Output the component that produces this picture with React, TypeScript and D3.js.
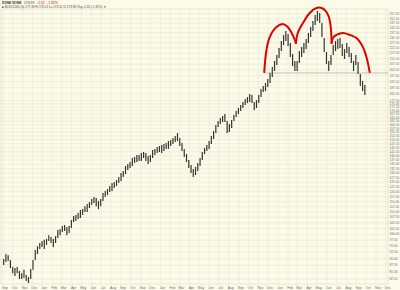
import React from 'react';
import * as d3 from 'd3';

const W = 400;
const H = 290;

const firstWeek = '2003-09-03';
const axisStart = '2003-09-01';
const axisEnd = '2007-01-01';

const weekHigh = [
  89.9, 91.8, 91.4, 89.5, 86.9, 86.5, 86.9, 85.4, 84.6, 85.8,
  83.9, 83.2, 86.1, 89.5, 93.4, 95.0, 96.3, 97.1, 97.6, 98.0,
  99.6, 98.8, 98.0, 99.2, 101.8, 102.3, 103.6, 104.0, 103.1, 103.6,
  106.3, 108.1, 108.6, 109.5, 110.9, 111.4, 112.8, 113.8, 114.8, 116.3,
  117.3, 116.8, 115.3, 116.3, 119.3, 120.4, 121.4, 123.0, 124.6, 125.1,
  126.2, 127.8, 130.1, 131.2, 134.0, 135.2, 136.4, 138.7, 139.3, 140.5,
  140.5, 141.7, 142.3, 141.7, 139.9, 140.5, 143.5, 144.2, 145.4, 146.0,
  146.6, 147.3, 147.9, 149.2, 149.8, 151.1, 152.4, 154.4, 151.1, 147.9,
  144.2, 141.1, 137.5, 134.6, 132.3, 133.5, 135.8, 138.7, 142.3, 144.8,
  146.6, 149.2, 152.4, 155.7, 159.8, 162.6, 164.7, 166.1, 167.5, 162.6,
  160.5, 163.3, 166.8, 169.7, 171.9, 174.1, 176.4, 178.7, 180.2, 182.5,
  181.8, 176.4, 177.9, 181.8, 186.5, 188.9, 191.4, 194.7, 199.8, 205.0,
  210.4, 215.8, 222.4, 229.2, 235.2, 239.2, 236.2, 227.2, 216.7, 210.4,
  210.4, 219.5, 223.3, 227.2, 231.1, 237.2, 243.4, 249.8, 256.3, 260.7,
  258.5, 247.6, 232.1, 218.6, 210.4, 215.8, 225.3, 229.2, 231.1, 232.1,
  226.2, 221.4, 227.2, 223.3, 217.7, 210.4, 215.8, 209.5, 198.9, 193.0,
  189.7,
];

const weekLow = [
  87.6, 88.7, 89.1, 86.5, 84.6, 83.6, 84.6, 82.5, 82.5, 82.9,
  81.8, 81.1, 82.5, 85.8, 89.5, 91.8, 93.8, 94.6, 93.8, 95.5,
  97.1, 96.3, 94.6, 96.3, 98.4, 99.6, 100.9, 101.4, 99.6, 100.5,
  102.7, 105.4, 105.8, 106.7, 107.2, 108.6, 110.0, 110.0, 111.9, 113.3,
  114.3, 112.8, 111.4, 112.8, 115.3, 117.3, 118.3, 119.8, 120.4, 121.9,
  123.0, 124.6, 125.7, 127.8, 129.5, 131.7, 132.9, 134.0, 135.8, 136.4,
  136.9, 136.9, 138.7, 136.9, 135.2, 136.4, 138.7, 140.5, 141.7, 142.3,
  141.7, 142.9, 144.2, 144.2, 146.0, 147.3, 148.5, 149.2, 146.0, 142.9,
  139.3, 136.4, 132.9, 130.1, 127.8, 128.9, 131.2, 134.0, 137.5, 141.1,
  142.9, 144.2, 147.3, 150.5, 154.4, 158.4, 160.5, 161.9, 161.9, 154.4,
  155.0, 157.7, 162.6, 165.4, 167.5, 169.7, 171.9, 174.1, 175.6, 176.4,
  175.6, 170.4, 171.9, 175.6, 180.2, 184.1, 184.9, 188.1, 191.4, 196.4,
  201.5, 206.8, 213.1, 219.5, 225.3, 229.2, 224.3, 214.0, 205.9, 201.5,
  201.5, 208.6, 214.0, 217.7, 221.4, 227.2, 233.1, 239.2, 245.5, 249.8,
  247.6, 233.1, 218.6, 207.7, 201.5, 206.8, 215.8, 219.5, 221.4, 222.4,
  214.9, 212.2, 217.7, 214.0, 208.6, 201.5, 206.8, 198.9, 188.9, 184.9,
  181.8,
];

const priceTicks = [
  82.5, 85, 87.5, 90, 92.5, 95, 97.5, 100, 102.5, 105, 107.5, 110, 112.5,
  115, 117.5, 120, 122.5, 125, 127.5, 130, 132.5, 135, 137.5, 140, 142.5,
  145, 147.5, 150, 152.5, 155, 157.5, 160, 162.5, 165, 167.5, 170, 172.5,
  175, 177.5, 182.5, 187.5, 192.5, 197.5, 202.5, 207.5, 212.5, 217.5,
  222.5, 227.5, 232.5, 237.5, 242.5, 247.5, 252.5, 257.5,
];

const leftShoulder: [string, number][] = [
  ['2005-11-19', 200.6], ['2005-11-26', 220.5], ['2005-12-06', 233.1],
  ['2005-12-27', 243.4], ['2006-01-16', 246.6], ['2006-01-31', 243.4],
  ['2006-02-12', 237.2], ['2006-02-22', 230.2], ['2006-02-25', 227.2],
];
const headArc: [string, number][] = [
  ['2006-02-25', 227.2], ['2006-03-03', 237.2], ['2006-03-19', 247.6],
  ['2006-04-09', 258.5], ['2006-04-30', 264.1], ['2006-05-16', 264.1],
  ['2006-05-31', 259.6], ['2006-06-10', 250.8], ['2006-06-14', 240.3],
  ['2006-06-16', 227.2],
];
const rightShoulder: [string, number][] = [
  ['2006-06-16', 227.2], ['2006-06-20', 232.1], ['2006-07-01', 235.2],
  ['2006-07-21', 237.2], ['2006-08-12', 235.2], ['2006-09-01', 232.1],
  ['2006-09-21', 223.3], ['2006-10-02', 214.0], ['2006-10-12', 200.6],
];
const necklinePrice = 199.8;
const necklineStart = '2005-11-21';
const necklineEnd = '2006-12-07';

const titleSymbol = '$ONE $ONE';
const titleLast = '173.99';
const titleChg = '-2.32';
const titlePct = '-1.32%';
const infoLine = '\u25A0 $1/31/2005  Op 177.39  Hi 178.25  Lo 173.52  Cl 173.99  Chg -2.32 (-1.32%) \u25BC';

const BG = '#fcfbea';
const GRID = '#e5e3cb';
const FONT = 'Liberation Sans, Arial, sans-serif';

export default function App() {
  const parse = d3.timeParse('%Y-%m-%d');
  const plotL = 1;
  const plotR = 388;
  const plotT = 9;
  const plotB = 284;

  const x = d3.scaleTime()
    .domain([parse(axisStart)!, parse(axisEnd)!])
    .range([3, 395.8]);
  const y = d3.scaleLog().domain([82.5, 257.5]).range([279, 13.9]);

  const start = parse(firstWeek)!;
  const bars = weekHigh.map((h, i) => ({
    d: d3.timeDay.offset(start, 7 * i),
    h,
    l: weekLow[i],
  }));

  const months = d3.timeMonth.range(parse(axisStart)!, parse(axisEnd)!);
  const fmt = d3.timeFormat('%b');

  const line = d3.line<[string, number]>()
    .x((d) => x(parse(d[0])!))
    .y((d) => y(d[1]))
    .curve(d3.curveCatmullRom.alpha(0.5));

  return (
    <svg width={W} height={H} style={{ position: 'absolute', left: 0, top: 0, background: BG }}>
      <rect x={0} y={0} width={W} height={H} fill={BG} />
      {priceTicks.map((t) => (
        <line key={'h' + t} x1={plotL} x2={plotR} y1={y(t)} y2={y(t)} stroke={GRID} strokeWidth={0.5} />
      ))}
      {months.map((m) => {
        const xm = x(m);
        return xm <= plotR ? (
          <line key={'v' + +m} x1={xm} x2={xm} y1={plotT} y2={plotB} stroke={GRID} strokeWidth={0.5} />
        ) : null;
      })}
      <rect x={plotL} y={plotT} width={plotR - plotL} height={plotB - plotT} fill="none" stroke="#d6d4bc" strokeWidth={0.5} />

      <line
        x1={x(parse(necklineStart)!)}
        x2={x(parse(necklineEnd)!)}
        y1={y(necklinePrice)}
        y2={y(necklinePrice)}
        stroke="#9a9a90"
        strokeWidth={0.6}
      />

      {bars.map((b, i) => (
        <line key={'b' + i} x1={x(b.d)} x2={x(b.d)} y1={y(b.h)} y2={y(b.l)} stroke="#333" strokeWidth={1.2} />
      ))}

      {[leftShoulder, headArc, rightShoulder].map((arc, i) => (
        <path key={'r' + i} d={line(arc) || ''} fill="none" stroke="#e00000" strokeWidth={2} strokeLinecap="round" />
      ))}

      {priceTicks.map((t) => (
        <text key={'t' + t} x={389.5} y={y(t)} dy="0.35em" fontSize={3.2} fill="#6a6a6a" fontFamily={FONT}>
          {t.toFixed(2)}
        </text>
      ))}

      {months.map((m) => (
        <text key={'m' + +m} x={x(m) + 2} y={288.6} textAnchor="middle" fontSize={3.4} fill="#6a6a6a" fontFamily={FONT}>
          {fmt(m)}
        </text>
      ))}

      <text x={2} y={4.2} fontSize={3.4} fontFamily={FONT} fill="#333">
        <tspan fontWeight="bold">{titleSymbol}</tspan>
        <tspan dx={2.5}>{titleLast}</tspan>
        <tspan dx={2.5} fill="#d00000">{titleChg}</tspan>
        <tspan dx={2.5} fill="#d00000">{titlePct}</tspan>
      </text>
      <text x={2} y={8} fontSize={3} fontFamily={FONT} fill="#444">
        {infoLine}
      </text>
    </svg>
  );
}
